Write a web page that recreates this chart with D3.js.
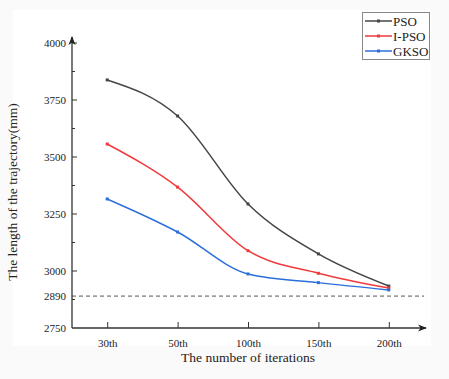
<!DOCTYPE html>
<html>
<head>
  <script src="https://d3js.org/d3.v7.min.js"></script>
  <style>
    body { margin: 0; background: #fafafa; }
    svg { display: block; }
    text { font-family: "Liberation Serif", "Times New Roman", serif; fill: #222; }
  </style>
</head>
<body>
  <svg id="chart"></svg>
  <script>
    var categories = ["30th", "50th", "100th", "150th", "200th"];
    var psoValues = [3838, 3680, 3294, 3075, 2934];
    var ipsoValues = [3557, 3368, 3089, 2990, 2925];
    var gksoValues = [3316, 3171, 2987, 2949, 2917];
    var yTicks = [2750, 3000, 3250, 3500, 3750, 4000];
    var yMinorTicks = [2875, 3125, 3375, 3625, 3875];
    var refValue = 2890;

    var series = [
      { name: "PSO", values: psoValues, color: "#454545" },
      { name: "I-PSO", values: ipsoValues, color: "#f03a3c" },
      { name: "GKSO", values: gksoValues, color: "#2b6fdc" }
    ];

    var width = 449, height = 379;
    var plotLeft = 72, plotRight = 424, plotTop = 43, plotBottom = 328;

    var svg = d3.select("#chart")
                .attr("width", width)
                .attr("height", height);

    svg.append("rect")
       .attr("x", 13).attr("y", 10)
       .attr("width", 418).attr("height", 336)
       .attr("fill", "#fff");

    var xScale = d3.scalePoint()
                   .domain(categories)
                   .range([plotLeft, plotRight])
                   .padding(0.5);
    var yScale = d3.scaleLinear()
                   .domain([2750, 4000])
                   .range([plotBottom, plotTop]);

    // reference line
    svg.append("line")
       .attr("x1", plotLeft).attr("x2", plotRight)
       .attr("y1", yScale(refValue)).attr("y2", yScale(refValue))
       .attr("stroke", "#555")
       .attr("stroke-width", 1)
       .attr("stroke-dasharray", "4,3");

    // axes
    var xAxis = svg.append("g")
       .attr("transform", "translate(0," + plotBottom + ")")
       .call(d3.axisBottom(xScale).tickSizeInner(-6).tickSizeOuter(0).tickPadding(11));
    xAxis.select(".domain").remove();
    xAxis.selectAll("line").attr("stroke", "#333");
    xAxis.selectAll("text").style("font-size", "11px");

    var yAxis = svg.append("g")
       .attr("transform", "translate(" + plotLeft + ",0)")
       .call(d3.axisLeft(yScale).tickValues(yTicks.concat([refValue])).tickFormat(d3.format("d"))
             .tickSizeInner(0).tickSizeOuter(0).tickPadding(6));
    yAxis.select(".domain").remove();
    yAxis.selectAll("text").style("font-size", "11px");

    svg.append("g").selectAll("line")
       .data(yTicks.filter(function(d) { return d > 2750; }))
       .join("line")
       .attr("x1", plotLeft).attr("x2", plotLeft + 5)
       .attr("y1", function(d) { return yScale(d); })
       .attr("y2", function(d) { return yScale(d); })
       .attr("stroke", "#333");
    svg.append("g").selectAll("line")
       .data(yMinorTicks)
       .join("line")
       .attr("x1", plotLeft).attr("x2", plotLeft + 3)
       .attr("y1", function(d) { return yScale(d); })
       .attr("y2", function(d) { return yScale(d); })
       .attr("stroke", "#333");

    // axis lines with arrows
    svg.append("defs").append("marker")
       .attr("id", "arrow")
       .attr("viewBox", "0 0 10 10")
       .attr("refX", 9).attr("refY", 5)
       .attr("markerWidth", 7).attr("markerHeight", 7)
       .attr("orient", "auto")
       .append("path")
       .attr("d", "M0,1 L10,5 L0,9 L3,5 Z")
       .attr("fill", "#222");

    svg.append("line")
       .attr("x1", plotLeft).attr("y1", plotBottom)
       .attr("x2", plotRight + 2).attr("y2", plotBottom)
       .attr("stroke", "#333").attr("stroke-width", 1.3)
       .attr("marker-end", "url(#arrow)");
    svg.append("line")
       .attr("x1", plotLeft).attr("y1", plotBottom)
       .attr("x2", plotLeft).attr("y2", plotTop - 6)
       .attr("stroke", "#333").attr("stroke-width", 1.3)
       .attr("marker-end", "url(#arrow)");

    // series
    var line = d3.line()
                 .x(function(d, i) { return xScale(categories[i]); })
                 .y(function(d) { return yScale(d); })
                 .curve(d3.curveMonotoneX);

    series.forEach(function(s) {
      svg.append("path")
         .datum(s.values)
         .attr("d", line)
         .attr("fill", "none")
         .attr("stroke", s.color)
         .attr("stroke-width", 1.5);
      svg.append("g").selectAll("rect")
         .data(s.values)
         .join("rect")
         .attr("x", function(d, i) { return xScale(categories[i]) - 1.5; })
         .attr("y", function(d) { return yScale(d) - 1.5; })
         .attr("width", 3).attr("height", 3)
         .attr("fill", s.color);
    });

    // labels
    svg.append("text")
       .attr("x", (plotLeft + plotRight) / 2)
       .attr("y", 362)
       .attr("text-anchor", "middle")
       .style("font-size", "13.5px")
       .text("The number of iterations");
    svg.append("text")
       .attr("transform", "translate(17,192) rotate(-90)")
       .attr("text-anchor", "middle")
       .style("font-size", "13.5px")
       .text("The length of the trajectory(mm)");

    // legend
    var legend = svg.append("g");
    legend.append("rect")
       .attr("x", 362.5).attr("y", 12.5)
       .attr("width", 67).attr("height", 47)
       .attr("fill", "#fff")
       .attr("stroke", "#888");
    series.forEach(function(s, i) {
      var yy = 21 + i * 15;
      legend.append("line")
         .attr("x1", 365).attr("x2", 392)
         .attr("y1", yy).attr("y2", yy)
         .attr("stroke", s.color).attr("stroke-width", 1.5);
      legend.append("rect")
         .attr("x", 377).attr("y", yy - 1.5)
         .attr("width", 3).attr("height", 3)
         .attr("fill", s.color);
      legend.append("text")
         .attr("x", 393).attr("y", yy + 4.5)
         .style("font-size", "13px")
         .text(s.name);
    });
  </script>
</body>
</html>
